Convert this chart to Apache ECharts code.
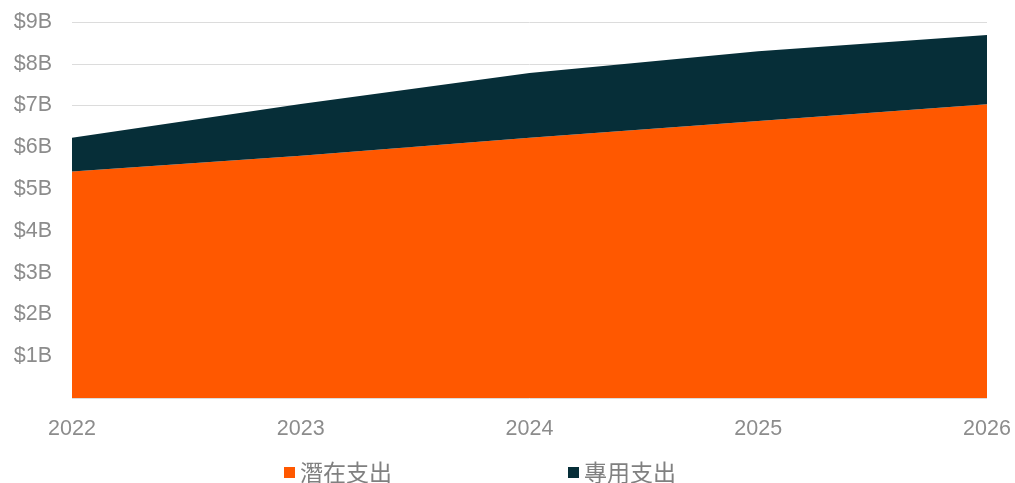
<!DOCTYPE html>
<html>
<head>
<meta charset="utf-8">
<script src="https://cdn.jsdelivr.net/npm/echarts@6/dist/echarts.min.js"></script>
<style>
  html, body { margin: 0; padding: 0; background: #fff; }
  #chart { width: 1015px; height: 483px; }
</style>
</head>
<body>
<div id="chart"></div>
<script>
// 年份
var years = ["2022", "2023", "2024", "2025", "2026"];
// 潛在支出 (十億美元)
var potential = [5.42, 5.80, 6.23, 6.63, 7.03];
// 專用支出 (疊加在潛在支出之上)
var dedicated = [0.81, 1.24, 1.55, 1.67, 1.66];
var seriesNames = ["潛在支出", "專用支出"];

var chart = echarts.init(document.getElementById("chart"));

var option = {
  animation: false,
  grid: {
    left: 72,
    right: 28,
    top: 22,
    bottom: 85
  },
  legend: {
    top: 456,
    left: 279,
    itemGap: 176,
    itemWidth: 11,
    itemHeight: 11,
    icon: "rect",
    textStyle: {
      color: "#808080",
      fontSize: 23,
      fontFamily: "Noto Sans CJK TC"
    },
    data: seriesNames
  },
  xAxis: {
    type: "category",
    boundaryGap: false,
    data: years,
    axisLine: { show: false },
    axisTick: { show: false },
    axisLabel: {
      color: "#8c8c8c",
      fontSize: 21.5,
      fontFamily: "Liberation Sans",
      margin: 20
    }
  },
  yAxis: {
    type: "value",
    min: 0,
    max: 9,
    interval: 1,
    axisLine: { show: false },
    axisTick: { show: false },
    axisLabel: {
      color: "#8c8c8c",
      fontSize: 21.5,
      fontFamily: "Liberation Sans",
      margin: 20,
      formatter: function (v) {
        return v === 0 ? "" : "$" + v + "B";
      }
    },
    splitLine: {
      lineStyle: { color: "#dcdcdc", width: 1 }
    }
  },
  series: [
    {
      name: seriesNames[0],
      type: "line",
      stack: "total",
      data: potential,
      showSymbol: false,
      color: "#ff5800",
      lineStyle: { width: 0 },
      areaStyle: { color: "#ff5800", opacity: 1 }
    },
    {
      name: seriesNames[1],
      type: "line",
      stack: "total",
      data: dedicated,
      showSymbol: false,
      color: "#062e38",
      lineStyle: { width: 0 },
      areaStyle: { color: "#062e38", opacity: 1 }
    }
  ]
};

chart.setOption(option);
</script>
</body>
</html>
